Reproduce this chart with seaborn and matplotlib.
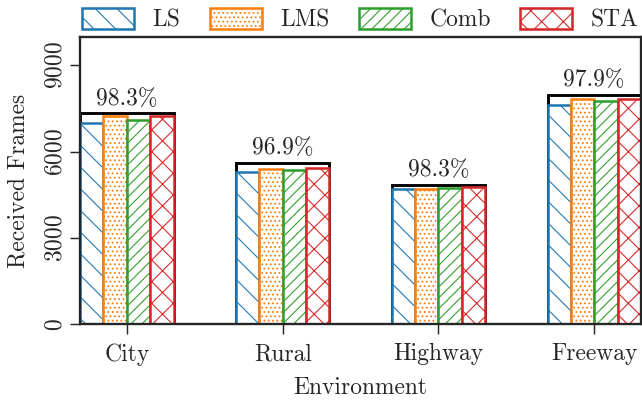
import numpy as np
import pandas as pd
import matplotlib
matplotlib.use("Agg")
import matplotlib.pyplot as plt
from matplotlib.patches import Patch
import seaborn as sns

# data
environments = ["City", "Rural", "Highway", "Freeway"]
methods = ["LS", "LMS", "Comb", "STA"]
received = {
    "LS":   [6990, 5300, 4690, 7620],
    "LMS":  [7230, 5390, 4720, 7830],
    "Comb": [7120, 5360, 4740, 7760],
    "STA":  [7240, 5440, 4770, 7830],
}
sent = [7330, 5610, 4840, 7990]
ratio_labels = ["98.3%", "96.9%", "98.3%", "97.9%"]

colors = ["#1f77b4", "#ff7f0e", "#2ca02c", "#d62728"]
hatches = ["\\\\", ".....", "////", "xx"]
fs = 13

sns.set_style("ticks")
plt.rcParams["font.family"] = "serif"
plt.rcParams["font.serif"] = ["cmr10"]
plt.rcParams["mathtext.fontset"] = "cm"
plt.rcParams["axes.formatter.use_mathtext"] = True
plt.rcParams["hatch.linewidth"] = 0.6

df = pd.DataFrame(
    [(env, m, received[m][i]) for m in methods for i, env in enumerate(environments)],
    columns=["Environment", "Method", "Frames"],
)

fig = plt.figure(figsize=(642 / 130, 405 / 130), dpi=130)
ax = fig.add_axes([80 / 642, 1 - 324.3 / 405, 561 / 642, (324.3 - 36.7) / 405])

# total sent frames, drawn behind as a black outline bracket
ax.bar(np.arange(len(environments)), sent, width=0.6, facecolor="white",
       edgecolor="black", linewidth=1.6, zorder=0.5)

sns.barplot(data=df, x="Environment", y="Frames", hue="Method", hue_order=methods,
            palette=colors, width=0.6, gap=0, ax=ax, legend=False, zorder=1)

for j, m in enumerate(methods):
    for bar in ax.containers[j + 1]:
        bar.set_facecolor("white")
        bar.set_hatch(hatches[j])
        bar.set_edgecolor(colors[j])
        bar.set_linewidth(1.4)

for i, lab in enumerate(ratio_labels):
    ax.text(i, sent[i] + 130, lab, ha="center", va="bottom", fontsize=fs)

ax.set_xlim(-0.3, 3.3)
ax.set_ylim(0, 10000)
ax.set_yticks([0, 3000, 6000, 9000])
ax.set_xlabel("Environment", fontsize=fs, labelpad=6)
ax.set_ylabel("Received Frames", fontsize=fs, labelpad=8)
for lab in ax.get_yticklabels():
    lab.set_rotation(90)
    lab.set_va("center")
ax.tick_params(axis="both", length=5.5, width=0.8, labelsize=fs)
ax.tick_params(axis="y", pad=2)
ax.tick_params(axis="x", pad=5)
for s in ax.spines.values():
    s.set_linewidth(1.3)
    s.set_visible(True)

handles = [Patch(facecolor="white", edgecolor=c, hatch=h, linewidth=1.4)
           for c, h in zip(colors, hatches)]
ax.legend(handles, methods, loc="lower left", bbox_to_anchor=(0, 1.01, 1, 0.1),
          mode="expand", ncol=4, frameon=False, handlelength=2.2, handleheight=1.0,
          borderaxespad=0, borderpad=0.1, fontsize=fs)

fig.savefig("out.png", dpi=130)
